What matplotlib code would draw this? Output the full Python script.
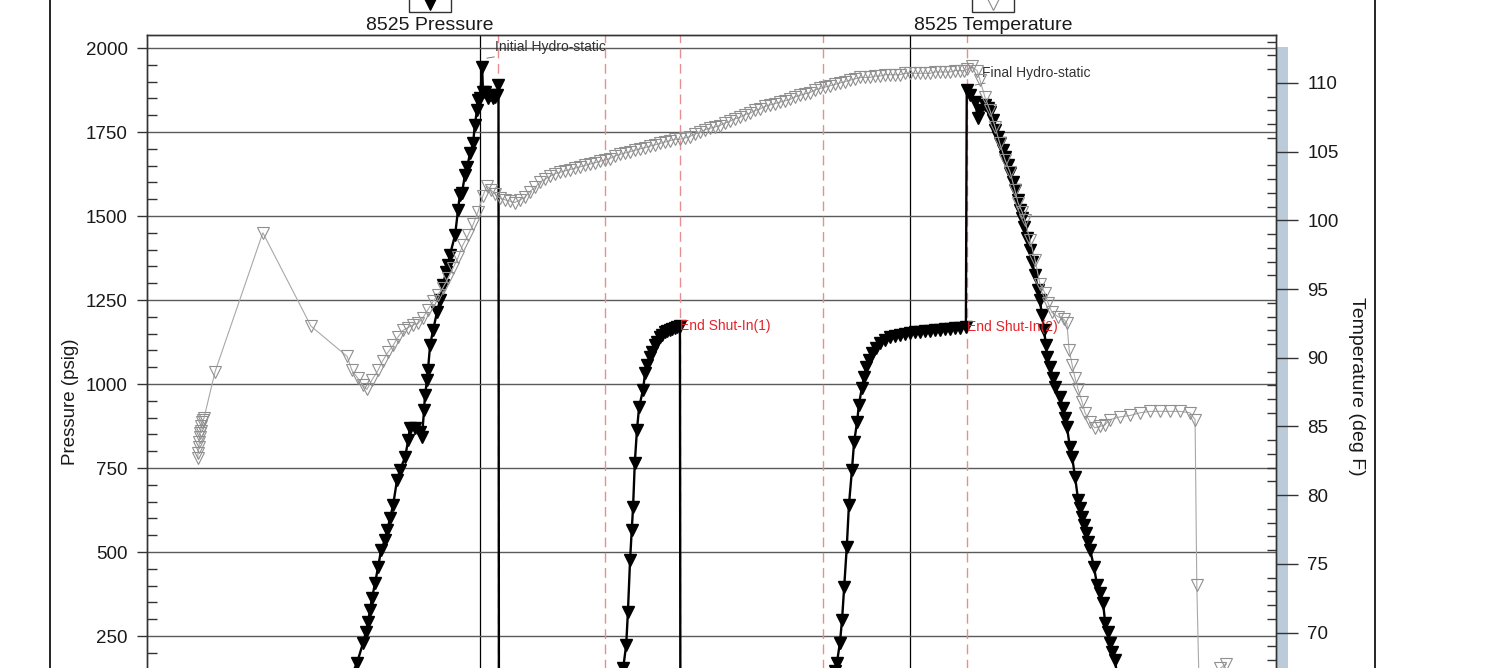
import matplotlib.pyplot as plt
from matplotlib.lines import Line2D
from matplotlib.patches import Rectangle

plt.rcParams['font.family'] = ['Liberation Sans', 'DejaVu Sans']

# gauge 8525 - elapsed time in minutes
press_time = [69.3, 70.2, 71.4, 72.8, 73.5, 74.0, 74.4, 74.9, 75.6, 76.3, 77.0, 77.9, 78.4, 79.1, 79.8,
              80.7, 81.4, 82.6, 83.3, 83.7, 84.9, 86.0, 86.5, 87.0, 87.2, 87.7, 87.9, 88.4, 89.1, 90.0,
              90.7, 91.4, 92.1, 92.6, 93.0, 94.2, 94.9, 95.3, 95.8, 96.5, 97.0, 97.7, 98.4, 98.8, 99.3,
              99.5, 100.0, 100.5, 100.7, 101.2, 101.9, 102.3, 103.0, 103.5, 104.0, 104.3,
              104.4, 114.0, 123.3, 129.3, 131.4, 132.6,
              133.3, 134.0, 134.4, 134.9, 135.3, 135.6, 136.0, 136.5, 137.0, 137.9, 138.4, 138.8, 139.5,
              140.0, 140.7, 141.2, 141.9, 142.3, 143.0, 143.5, 144.2, 144.7, 145.3, 145.8, 146.5,
              146.6, 151.2, 162.8, 174.4, 179.8, 181.9, 182.6,
              183.0, 183.7, 184.2, 184.7, 185.3, 185.8, 186.5, 187.0, 187.7, 188.1, 188.8, 189.3, 189.8,
              190.5, 191.2, 192.1, 193.0, 194.2, 195.4, 196.5, 197.7, 198.8, 200.0, 201.2, 202.3, 203.5,
              204.7, 205.8, 207.0, 208.1, 209.3, 210.5, 211.6, 213.0,
              213.2, 214.0, 215.1, 215.8, 216.3, 217.4, 218.1, 218.6, 219.3, 219.8, 220.5, 220.9, 221.6,
              222.1, 222.8, 223.3, 224.0, 224.4, 225.1, 225.6, 226.1, 226.5, 227.2, 227.9, 228.4, 229.1,
              229.8, 230.2, 230.7, 231.2, 231.6, 231.9, 232.6, 233.3, 233.7, 234.9, 235.6, 236.1, 236.5,
              237.2, 237.7, 238.4, 239.1, 239.5, 240.0, 240.5, 240.9, 241.4, 241.9, 242.8, 243.5, 244.2,
              244.9, 245.4, 246.1, 246.5, 247.0, 247.7, 248.4, 249.3]
press_psi = [89, 134, 170, 229, 262, 292, 327, 363, 408, 455, 506, 536, 565, 601, 640,
             714, 744, 783, 833, 869, 869, 857, 842, 923, 967, 1012, 1042, 1116, 1161, 1214,
             1250, 1295, 1333, 1354, 1384, 1443, 1518, 1562, 1568, 1622, 1646, 1687, 1717, 1771, 1815,
             1845, 1851, 1943, 1869, 1869, 1851, 1860, 1851, 1854, 1860, 1890,
             40, 55, 70, 85, 110, 134,
             155, 223, 321, 476, 565, 634, 765, 863, 931, 982, 1033, 1056, 1080,
             1095, 1116, 1125, 1140, 1146, 1155, 1158, 1161, 1164, 1167, 1170, 1173,
             40, 50, 65, 80, 95, 115, 145,
             170, 229, 298, 396, 515, 640, 744, 827, 887, 937, 988, 1021, 1051,
             1071, 1092, 1107, 1122, 1131, 1140, 1143, 1146, 1149, 1152, 1155, 1155, 1158,
             1158, 1161, 1161, 1164, 1164, 1167, 1167, 1170,
             1875, 1860, 1839, 1792, 1815, 1830, 1821, 1809, 1786, 1756, 1735, 1717, 1696,
             1675, 1652, 1628, 1601, 1577, 1548, 1518, 1494, 1467, 1434, 1399, 1363, 1324,
             1280, 1250, 1205, 1161, 1116, 1080, 1051, 1018, 991, 961, 929, 899, 872,
             812, 783, 723, 655, 631, 604, 580, 557, 530, 506, 455, 402, 378,
             348, 289, 262, 229, 202, 179, 104, 60]

temp_time = [34.4, 34.4, 34.7, 34.7, 34.9, 34.9, 35.1, 35.1, 35.4, 35.6, 35.8, 38.4, 49.5, 60.7,
             69.1, 70.2, 71.6, 72.8, 73.7, 74.9, 76.3, 77.4, 78.6, 79.8, 80.9, 82.1, 83.3, 84.4, 85.6,
             86.7, 87.9, 89.1, 90.2, 91.4, 92.6, 93.7, 94.9, 96.0, 97.2, 98.4, 99.5, 100.7, 101.6,
             102.6, 103.5, 104.7, 105.8, 107.0, 108.1, 109.3, 110.5, 111.6, 112.8, 114.0, 115.1, 116.3,
             117.4, 118.6, 119.8, 120.9, 122.1, 123.3, 124.4, 125.6, 126.7, 127.9, 129.1, 130.2, 131.4,
             132.6, 133.7, 134.9, 136.0, 137.2, 138.4, 139.5, 140.7, 141.9, 143.0, 144.2, 145.3, 146.5,
             147.7, 148.8, 150.0, 151.2, 152.3, 153.5, 154.7, 155.8, 157.0, 158.1, 159.3, 160.5, 161.6,
             162.8, 164.0, 165.1, 166.3, 167.4, 168.6, 169.8, 170.9, 172.1, 173.3, 174.4, 175.6, 176.7,
             177.9, 179.1, 180.2, 181.4, 182.6, 183.7, 184.9, 186.0, 187.2, 188.4, 189.5, 190.7, 191.9,
             193.0, 194.2, 195.4, 196.5, 197.7, 198.8, 200.0, 201.2, 202.3, 203.5, 204.7, 205.8, 207.0,
             208.1, 209.3, 210.5, 211.6, 212.5, 213.3,
             214.4, 215.6, 216.3, 217.4, 218.6, 219.8, 220.9, 222.1, 223.3, 224.4,
             225.1, 226.1, 226.7, 227.9, 229.1, 230.2, 231.4, 232.1, 233.0, 234.4, 235.8, 236.5, 237.0,
             237.7, 238.4, 239.1, 240.0, 240.7, 241.9, 243.0, 244.2, 245.3, 246.5, 248.8, 251.2, 253.5,
             255.8, 258.1, 260.5, 262.8, 265.1, 266.3, 266.7, 267.2, 269.8, 272.1, 273.5]
temp_degf = [82.7, 83.1, 83.5, 83.9, 84.2, 84.5, 84.7, 85.0, 85.3, 85.5, 85.6, 89.0, 99.1, 92.3,
             90.1, 89.1, 88.5, 88.0, 87.7, 88.4, 89.1, 89.8, 90.4, 90.9, 91.5, 92.0, 92.2, 92.4, 92.5,
             92.9, 93.5, 94.1, 94.6, 95.1, 95.8, 96.5, 97.3, 98.2, 98.9, 99.7, 100.6, 101.8, 102.5,
             102.2, 101.9, 101.6, 101.5, 101.4, 101.3, 101.5, 101.7, 102.1, 102.4, 102.8, 103.0, 103.2,
             103.4, 103.5, 103.6, 103.7, 103.8, 103.9, 104.0, 104.1, 104.2, 104.3, 104.4, 104.5, 104.7,
             104.8, 104.9, 105.0, 105.1, 105.2, 105.3, 105.4, 105.5, 105.6, 105.7, 105.8, 105.9, 105.9,
             106.0, 106.1, 106.3, 106.4, 106.6, 106.7, 106.8, 106.9, 107.1, 107.2, 107.4, 107.5, 107.7,
             107.8, 108.0, 108.1, 108.3, 108.4, 108.5, 108.6, 108.7, 108.8, 109.0, 109.1, 109.2, 109.3,
             109.5, 109.6, 109.7, 109.8, 109.9, 110.0, 110.1, 110.2, 110.3, 110.4, 110.4, 110.4, 110.5,
             110.5, 110.6, 110.6, 110.6, 110.6, 110.7, 110.7, 110.7, 110.7, 110.7, 110.7, 110.8, 110.8,
             110.8, 110.8, 110.9, 110.9, 110.9, 111.0,
             111.2, 110.9, 110.2, 109.0, 108.0, 106.8, 105.6, 104.4, 103.5, 102.2,
             101.3, 100.6, 100.0, 98.6, 97.1, 95.4, 94.7, 94.0, 93.3, 93.0, 92.8, 92.5, 90.6,
             89.5, 88.5, 87.7, 86.8, 86.0, 85.3, 84.9, 85.0, 85.1, 85.5, 85.7, 85.8, 86.0,
             86.1, 86.1, 86.1, 86.1, 86.0, 85.5, 73.5, 66.6, 66.8, 67.4, 67.7]

# start of each flow / shut-in period
event_times = [104.3, 129.1, 146.6, 179.8, 213.2]

W, H = 1506, 668
fig = plt.figure(figsize=(W / 100, H / 100), dpi=100)
ax = fig.add_axes([147 / W, -52 / H, 1129 / W, 685 / H])
ax2 = ax.twinx()

for t in event_times:
    ax.axvline(t, color='#e58f93', lw=1.0, ls=(0, (7, 4)), zorder=1)

ax.plot(press_time, press_psi, color='black', lw=1.7, marker='v', ms=8,
        mfc='black', mec='black', zorder=3)
ax2.plot(temp_time, temp_degf, color='#a8a8a8', lw=0.8, marker='v', ms=9,
         mfc='none', mec='#8f8f8f', mew=0.8)

ax.set_xlim(22.56, 285.12)
ax.set_ylim(0, 2039)
ax2.set_ylim(63.64, 113.49)

# only the ticks that fall inside the picture
ax.set_xticks([100, 200])
ax.set_yticks(range(250, 2001, 250))
ax.set_yticks(range(150, 2001, 50), minor=True)
ax2.set_yticks(range(70, 111, 5))
ax2.set_yticks(range(66, 114), minor=True)

ax.set_axisbelow(True)
ax.grid(axis='y', color='#5a5a5a', lw=1.0)
ax.grid(axis='x', color='black', lw=0.9)

ax.tick_params(axis='x', which='both', bottom=False, labelbottom=False)
ax.tick_params(axis='y', which='major', direction='out', length=7, width=1, pad=7,
               labelsize=13.5, labelcolor='#1a1a1a', color='#333333')
ax.tick_params(axis='y', which='minor', direction='in', length=7, width=1, color='#333333')
ax2.tick_params(axis='y', which='major', direction='out', length=16, width=1, pad=6.5,
                labelsize=13.5, labelcolor='#1a1a1a', color='#333333')
ax2.tick_params(axis='y', which='minor', direction='in', length=6.5, width=1, color='#333333')
for a in (ax, ax2):
    for s in a.spines.values():
        s.set_color('#333333')
        s.set_linewidth(1.0)

ax.set_ylabel('Pressure (psig)', fontsize=13.5, color='#1a1a1a', va='center')
ax.yaxis.set_label_coords(-0.0682, 0.4642)
ax2.set_ylabel('Temperature (deg F)', fontsize=14, color='#1a1a1a', rotation=270, va='center')
ax2.yaxis.set_label_coords(1.0717, 0.4876)

ax.annotate('Initial Hydro-static', xy=(101.6, 1970), xytext=(103.5, 2003), fontsize=10,
            color='#333333', ha='left', va='center',
            arrowprops=dict(arrowstyle='-', color='#666666', lw=0.6, shrinkA=0, shrinkB=0))
ax.annotate('Final Hydro-static', xy=(215.1, 1890), xytext=(216.7, 1925), fontsize=10,
            color='#333333', ha='left', va='center',
            arrowprops=dict(arrowstyle='-', color='#666666', lw=0.6, shrinkA=0, shrinkB=0))
ax.text(146.5, 1173, 'End Shut-In(1)', color='#e3242b', fontsize=10, ha='left', va='center')
ax.text(213.3, 1170, 'End Shut-In(2)', color='#e3242b', fontsize=10, ha='left', va='center')

# legend keys sit above the plot, marker in a box with the name underneath
for name, cx, face, edge in [('8525 Pressure', 430, 'black', 'black'),
                             ('8525 Temperature', 993, 'none', '#8a8a8a')]:
    fig.add_artist(Rectangle(((cx - 21) / W, 1 - 12 / H), 42 / W, 30 / H,
                             transform=fig.transFigure, fill=False, ec='#333333', lw=1))
    fig.add_artist(Line2D([cx / W], [1 - 3 / H], transform=fig.transFigure, marker='v',
                          ms=10, mfc=face, mec=edge, mew=0.8, ls='none'))
    fig.text(cx / W, 1 - 25 / H, name, ha='center', va='center', fontsize=14, color='#1a1a1a')

# outer frame and the shaded strip next to the right axis
fig.add_artist(Line2D([50 / W, 50 / W], [0, 1], transform=fig.transFigure, color='black', lw=1.2))
fig.add_artist(Line2D([1375 / W, 1375 / W], [0, 1], transform=fig.transFigure, color='black', lw=1.2))
fig.add_artist(Rectangle((1277 / W, 0), 11 / W, (H - 47) / H, transform=fig.transFigure,
                         color='#bccbd9', lw=0, zorder=-1))

fig.savefig('out.png', dpi=100)
